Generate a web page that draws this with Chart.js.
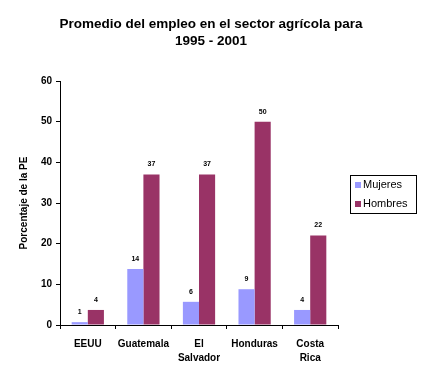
<!DOCTYPE html>
<html><head><meta charset="utf-8">
<script src="https://cdn.jsdelivr.net/npm/chart.js@4/dist/chart.umd.min.js"></script>
<style>html,body{margin:0;padding:0;background:#fff}#wrap{width:422px;height:384px}</style>
</head><body><div id="wrap"><canvas id="c" width="422" height="384"></canvas></div>
<script>
const categories = ["EEUU", "Guatemala", ["El", "Salvador"], "Honduras", ["Costa", "Rica"]];
const mujeres = [0.7, 13.8, 5.7, 8.8, 3.7];
const hombres = [3.7, 37, 37, 50, 22];
const mujeresLabels = ["1", "14", "6", "9", "4"];
const hombresLabels = ["4", "37", "37", "50", "22"];
const yTicks = [0, 10, 20, 30, 40, 50, 60];
const titleLines = ["Promedio del empleo en el sector agrícola para", "1995 - 2001"];

const F = "'Liberation Sans', Arial, sans-serif";

const labelPlugin = {
  id: 'labels',
  afterDatasetsDraw(chart) {
    const ctx = chart.ctx;
    const lbls = [mujeresLabels, hombresLabels];
    ctx.save();
    ctx.font = "bold 7px " + F;
    ctx.fillStyle = '#000';
    ctx.textAlign = 'center';
    ctx.textBaseline = 'middle';
    chart.data.datasets.forEach((ds, i) => {
      chart.getDatasetMeta(i).data.forEach((bar, j) => {
        ctx.fillText(lbls[i][j], bar.x, bar.y - 10);
      });
    });
    ctx.restore();
  },
  afterDraw(chart) {
    const ctx = chart.ctx;
    ctx.save();
    // title
    ctx.fillStyle = '#000';
    ctx.font = "bold 13.5px " + F;
    ctx.textAlign = 'center';
    ctx.textBaseline = 'middle';
    titleLines.forEach((t, i) => ctx.fillText(t, 211, 24 + i * 17));
    // legend
    ctx.strokeStyle = '#000';
    ctx.lineWidth = 1;
    ctx.strokeRect(350.5, 175.5, 66, 38);
    ctx.font = "11px " + F;
    ctx.textAlign = 'left';
    chart.data.datasets.forEach((ds, i) => {
      const y = 185 + i * 19;
      ctx.fillStyle = ds.backgroundColor;
      ctx.fillRect(355, y - 3, 6, 6);
      ctx.fillStyle = '#000';
      ctx.fillText(ds.label, 363, y);
    });
    ctx.restore();
  }
};

new Chart(document.getElementById('c'), {
  type: 'bar',
  data: {
    labels: categories,
    datasets: [
      { label: 'Mujeres', data: mujeres, backgroundColor: '#9999FF' },
      { label: 'Hombres', data: hombres, backgroundColor: '#993366' }
    ]
  },
  options: {
    responsive: false,
    animation: false,
    devicePixelRatio: 1,
    layout: { padding: { top: 81, right: 84, left: 18, bottom: 0 } },
    datasets: { bar: { categoryPercentage: 0.58, barPercentage: 1.0 } },
    plugins: {
      legend: { display: false },
      tooltip: { enabled: false },
      title: { display: false }
    },
    scales: {
      x: {
        grid: { display: true, drawOnChartArea: false, drawTicks: true, tickLength: 4, color: '#000' },
        border: { display: true, color: '#000' },
        ticks: { color: '#000', font: { family: F, size: 10, weight: 'bold', lineHeight: 1.4 }, maxRotation: 0, autoSkip: false, padding: 8 },
        afterFit(s) { s.height = 59; }
      },
      y: {
        min: 0, max: 60,
        afterBuildTicks(s) { s.ticks = yTicks.map(v => ({ value: v })); },
        grid: { display: true, drawOnChartArea: false, drawTicks: true, tickLength: 4, color: '#000' },
        border: { display: true, color: '#000' },
        ticks: { color: '#000', font: { family: F, size: 10, weight: 'bold' }, padding: 4 },
        title: { display: true, text: 'Porcentaje de la PE', color: '#000', font: { family: F, size: 10, weight: 'bold' }, padding: { top: 0, bottom: 8 } },
        afterFit(s) { s.width = 42; }
      }
    }
  },
  plugins: [labelPlugin]
});
</script>
</body></html>
